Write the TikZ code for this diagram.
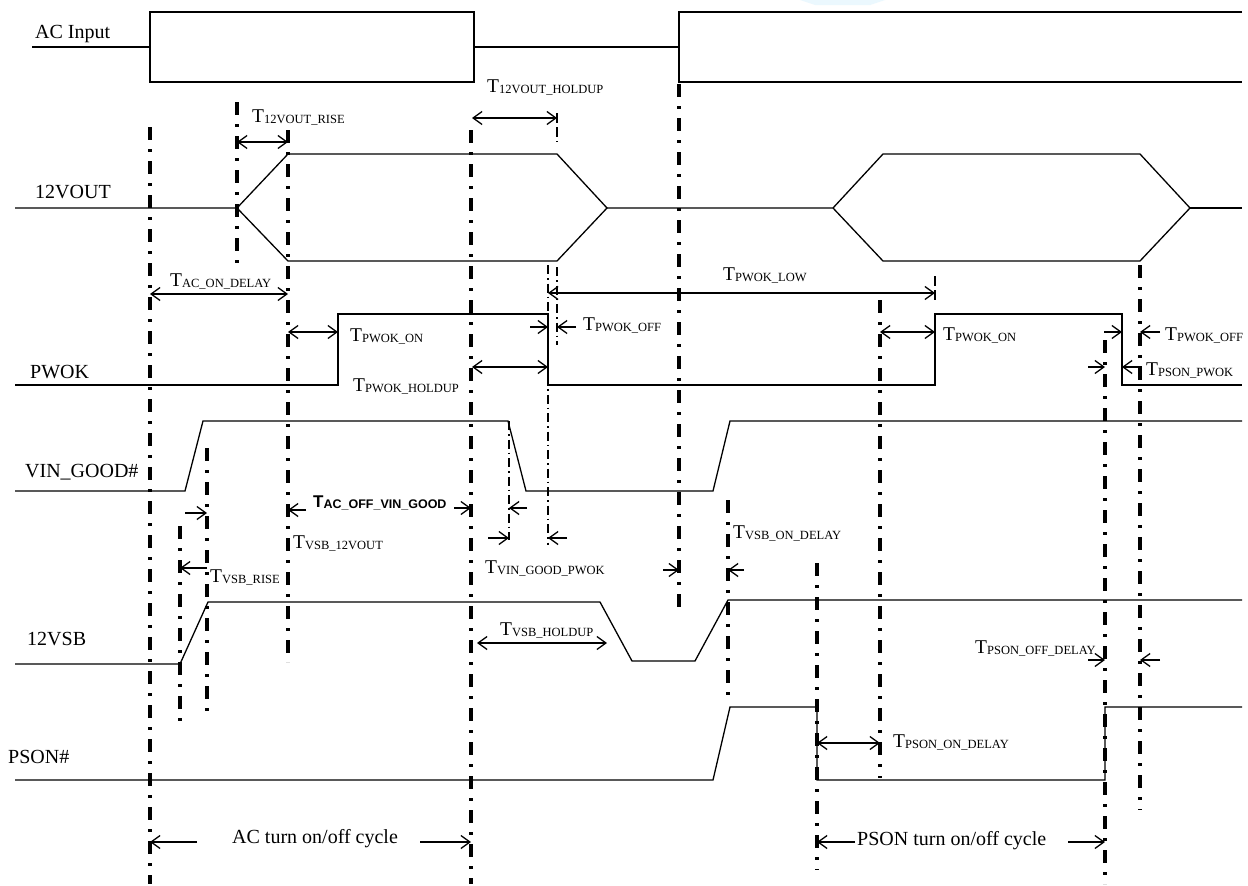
\documentclass[tikz,border=0pt]{standalone}
\usepackage{fontspec}
\setmainfont{Liberation Serif}
\newfontfamily\arialfont{Liberation Sans}
\usetikzlibrary{arrows.meta}
\newcommand{\Tl}[1]{T\raisebox{-1.5pt}{\fontsize{12.5}{14}\selectfont #1}}
\newcommand{\Tb}[1]{T\raisebox{-1pt}{\fontsize{12.5}{14}\selectfont #1}}
\begin{document}
\begin{tikzpicture}[x=1pt,y=-1pt,
  sig/.style={line width=1.3pt, line join=miter},
  vdd/.style={line width=3.2pt, dash pattern=on 13pt off 9pt on 3pt off 9pt},
  vthin/.style={line width=1.2pt, dash pattern=on 9pt off 4pt on 1.5pt off 4pt},
  vdash/.style={line width=1.8pt, dash pattern=on 10pt off 4pt},
  barb/.tip={Straight Barb[length=9pt,width=13pt,line width=1.3pt]},
  dim/.style={line width=1.2pt, barb-barb},
  pt/.style={line width=1.2pt, -barb},
  lbl/.style={anchor=base west, inner sep=0pt, font=\fontsize{20}{24}\selectfont},
  tl/.style={anchor=base west, inner sep=0pt, font=\fontsize{19.5}{24}\selectfont}]
\useasboundingbox (0,0) rectangle (1248,886);
\fill[white] (0,0) rectangle (1248,886);
% faint watermark
\fill[cyan!8] (800,0) -- (885,0) -- (870,5) -- (815,5) -- cycle;

% signal names
\node[lbl] (nac)   at (35,38)  {AC Input};
\node[lbl] (n12)   at (35,198) {12VOUT};
\node[lbl] (npw)   at (30,378) {PWOK};
\node[lbl] (nvin)  at (25,477) {VIN\_GOOD\#};
\node[lbl] (nvsb)  at (27,645) {12VSB};
\node[lbl] (nps)   at (8,763)  {PSON\#};

% AC input
\draw[sig] (32,47) -- (150,47);
\draw[sig] (150,12) -- (474,12) -- (474,82) -- (150,82) -- cycle;
\draw[sig] (474,47) -- (679,47);
\draw[sig] (1242,12) -- (679,12) -- (679,82) -- (1242,82);

% 12VOUT
\draw[sig] (15,208) -- (237,208) -- (288,154) -- (557,154) -- (607,208) -- (557,261) -- (288,261) -- (237,208);
\draw[sig] (607,208) -- (833,208) -- (883,154) -- (1140,154) -- (1190,208) -- (1140,261) -- (883,261) -- (833,208);
\draw[sig] (1190,208) -- (1242,208);

% PWOK
\draw[sig] (15,385) -- (338,385) -- (338,314) -- (548,314) -- (548,385) -- (935,385) -- (935,314) -- (1122,314) -- (1122,385) -- (1242,385);

% VIN_GOOD#
\draw[sig] (15,491) -- (185,491) -- (203,421) -- (508,421) -- (526,491) -- (713,491) -- (730,421) -- (1242,421);

% 12VSB
\draw[sig] (15,664) -- (180,664) -- (208,602) -- (600,602) -- (632,661) -- (695,661) -- (728,600) -- (1242,600);

% PSON#
\draw[sig] (15,780) -- (713,780) -- (730,707) -- (817,707) -- (817,780) -- (1105,780) -- (1105,707) -- (1242,707);

% vertical marker lines
\draw[vdd] (150,127) -- (150,884);
\draw[vdd] (237,102) -- (237,268);
\draw[vdd] (288,130) -- (288,662);
\draw[vdd] (180,526) -- (180,722);
\draw[vdd] (207,448) -- (207,716);
\draw[vdd] (471,130) -- (471,884);
\draw[vdd] (679,84) -- (679,615);
\draw[vdd] (728,500) -- (728,698);
\draw[vdd] (817,563) -- (817,870);
\draw[vdd] (880,300) -- (880,778);
\draw[vdd] (1105,340) -- (1105,884);
\draw[vdd] (1140,265) -- (1140,810);
\draw[vthin] (548,265) -- (548,545);
\draw[vthin] (557,267) -- (557,345);
\draw[vthin] (509,421) -- (509,540);
\draw[vdash] (557,113) -- (557,142);
\draw[vdash] (935,276) -- (935,300);

% timing arrows and labels
\draw[dim] (237,142) -- (288,142);
\node[tl] (t1) at (252,122) {\Tl{12VOUT\_RISE}};

\draw[dim] (150,294) -- (288,294);
\node[tl] (t2) at (170,286) {\Tl{AC\_ON\_DELAY}};

\draw[dim] (472,118) -- (557,118);
\node[tl] (t3) at (487,92) {\Tl{12VOUT\_HOLDUP}};

\draw[dim] (548,293) -- (935,293);
\node[tl] (t4) at (723,280) {\Tl{PWOK\_LOW}};

\draw[dim] (288,332) -- (338,332);
\node[tl] (t5) at (350,341) {\Tl{PWOK\_ON}};

\draw[dim] (472,367) -- (548,367);
\node[tl] (t6) at (353,391) {\Tl{PWOK\_HOLDUP}};

\draw[pt] (530,327) -- (548,327);
\draw[pt] (576,327) -- (557,327);
\node[tl] (t7) at (583,330) {\Tl{PWOK\_OFF}};

\draw[dim] (880,332) -- (935,332);
\node[tl] (t8) at (943,340) {\Tl{PWOK\_ON}};

\draw[pt] (1104,332) -- (1122,332);
\draw[pt] (1160,332) -- (1140,332);
\node[tl] (t9) at (1165,340) {\Tl{PWOK\_OFF}};

\draw[pt] (1088,367) -- (1105,367);
\draw[pt] (1142,367) -- (1122,367);
\node[tl] (t10) at (1146,375) {\Tl{PSON\_PWOK}};

\draw[pt] (185,513) -- (207,513);
\draw[pt] (306,510) -- (288,510);
\node[tl] (t11) at (293,548) {\Tl{VSB\_12VOUT}};

\draw[pt] (454,508) -- (471,508);
\draw[pt] (527,508) -- (509,508);
\node[anchor=base west, inner sep=0pt, font=\arialfont\bfseries\fontsize{17}{20}\selectfont] (t12) at (313,507) {\Tb{AC\_OFF\_VIN\_GOOD}};

\draw[pt] (488,538) -- (509,538);
\draw[pt] (567,538) -- (548,538);
\node[tl] (t13) at (485,573) {\Tl{VIN\_GOOD\_PWOK}};

\draw[pt] (207,568) -- (180,568);
\node[tl] (t14) at (210,582) {\Tl{VSB\_RISE}};

\draw[pt] (663,570) -- (679,570);
\draw[pt] (744,570) -- (728,570);
\node[tl] (t15) at (733,538) {\Tl{VSB\_ON\_DELAY}};

\draw[dim] (477,643) -- (607,643);
\node[tl] (t16) at (500,635) {\Tl{VSB\_HOLDUP}};

\draw[pt] (1088,660) -- (1105,660);
\draw[pt] (1160,660) -- (1140,660);
\node[tl] (t17) at (975,653) {\Tl{PSON\_OFF\_DELAY}};

\draw[dim] (817,743) -- (880,743);
\node[tl] (t18) at (893,747) {\Tl{PSON\_ON\_DELAY}};

\draw[pt] (197,842) -- (150,842);
\draw[pt] (420,842) -- (471,842);
\node[lbl] (c1) at (232,843) {AC turn on/off cycle};

\draw[pt] (855,842) -- (817,842);
\draw[pt] (1068,842) -- (1105,842);
\node[lbl] (c2) at (857,845) {PSON turn on/off cycle};
\end{tikzpicture}
\end{document}
